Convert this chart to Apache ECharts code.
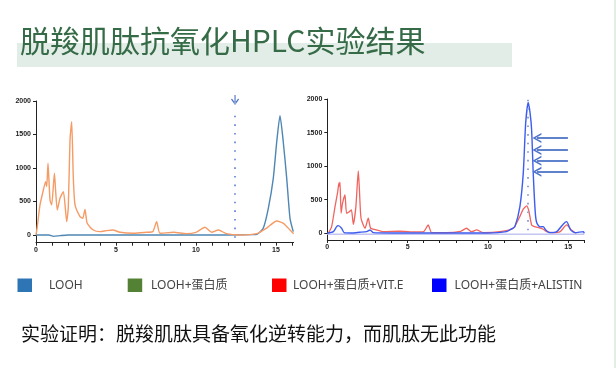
<!DOCTYPE html>
<html>
<head>
<meta charset="utf-8">
<script src="https://cdn.jsdelivr.net/npm/echarts@6/dist/echarts.min.js"></script>
<style>
html,body{margin:0;padding:0;background:#fff;}
#c{width:616px;height:368px;}
</style>
</head>
<body>
<div id="c"></div>
<script>
// ---------- data ----------
const titleText = '脱羧肌肽抗氧化HPLC实验结果';
const conclusionText = '实验证明：脱羧肌肽具备氧化逆转能力，而肌肽无此功能';
const legendNames = ['LOOH', 'LOOH+蛋白质', 'LOOH+蛋白质+VIT.E', 'LOOH+蛋白质+ALISTIN'];
const legendColors = ['#2e75b6', '#548235', '#ff0000', '#0000ff'];
const yTickValues = [0, 500, 1000, 1500, 2000];
const xTickLabels = [0, 5, 10, 15];
const xMinorTicks = [0,1,2,3,4,5,6,7,8,9,10,11,12,13,14,15,16];

// left chromatogram (time, signal)
const leftOrange = [[0,0],[0.08,124],[0.25,448],[0.46,672],[0.6,796],[0.67,722],[0.75,1070],[0.875,522],[0.98,448],[1.15,921],[1.23,647],[1.33,373],[1.5,548],[1.71,647],[1.92,199],[2.02,423],[2.125,1418],[2.23,1692],[2.33,871],[2.44,448],[2.75,274],[2.92,249],[3.06,383],[3.2,174],[3.58,75],[4.0,50],[4.4,65],[4.8,75],[5.25,40],[6.1,25],[6.9,40],[7.3,50],[7.54,199],[7.75,25],[8.6,40],[9.4,20],[10.0,40],[10.56,115],[10.98,40],[11.4,75],[11.9,20],[12.75,0],[13.8,20],[14.4,100],[15.04,209],[15.46,174],[15.875,75],[16.1,20]];
const leftBlue = [[0,0],[0.8,0],[1.1,-20],[1.5,-10],[2,0],[5,0],[10,0],[12,0],[13.5,5],[13.8,10],[14.2,100],[14.52,398],[14.83,846],[15.05,1400],[15.25,1781],[15.45,1400],[15.67,846],[15.875,249],[16.08,50]];
const leftMarkerT = 12.44;

// right chromatogram (time, signal)
const rightRed = [[0.06,0],[0.27,99],[0.48,397],[0.65,621],[0.72,746],[0.76,700],[0.79,761],[0.86,300],[0.95,450],[1.1,572],[1.2,298],[1.37,322],[1.5,348],[1.62,134],[1.78,397],[1.93,930],[2.0,646],[2.1,224],[2.35,75],[2.55,224],[2.7,75],[3.07,50],[3.49,25],[4.5,30],[5.5,20],[6.0,25],[6.28,124],[6.5,10],[7.4,10],[8.3,30],[8.67,75],[8.98,25],[9.3,50],[9.7,10],[10.75,25],[11.58,75],[11.99,250],[12.2,360],[12.41,408],[12.55,330],[12.72,124],[12.9,100],[13.2,80],[13.44,60],[13.65,25],[14.06,10],[14.5,25],[14.9,124],[15.2,50],[15.5,0]];
const rightBlue = [[0,0],[0.38,25],[0.58,99],[0.68,114],[0.89,75],[1.05,10],[1.5,5],[2.0,15],[2.45,25],[2.66,50],[2.87,10],[4,5],[6,5],[8,5],[10,5],[11.16,25],[11.5,70],[11.68,99],[11.99,397],[12.2,896],[12.35,1642],[12.51,1950],[12.62,1800],[12.72,1542],[12.82,896],[12.95,300],[13.05,149],[13.25,95],[13.44,99],[13.6,50],[13.86,10],[14.28,25],[14.7,140],[14.9,174],[15.15,50],[15.42,10],[15.94,25],[16.0,0]];
const rightBase = [[0,-15],[16,-15]];
const rightMarkerT = 12.45;
const arrowLevels = [1420, 1240, 1080, 915];
const arrowFromT = 14.98;
const arrowToT = 13.05;

// ---------- chart ----------
const chevronUp = 'path://M0,10 L5,0 L10,10 L8.2,10 L5,3.4 L1.8,10 Z';
const downArrow = 'path://M4.3,0 L5.7,0 L5.7,8.5 L4.3,8.5 Z M0,4.6 L5,10 L10,4.6 L8.9,3.6 L5,7.8 L1.1,3.6 Z';
const dotStyle = {type: [1.6, 7], width: 2, color: '#7b95db', cap: 'butt'};
const axisFont = {fontSize: 7, fontWeight: 'bold', color: '#222', fontFamily: 'Liberation Sans, Arial, sans-serif',
  formatter: function (v) { return String(v); }};

function xAxisDef(idx, max) {
  return {
    type: 'value', gridIndex: idx, min: 0, max: max,
    axisLine: {show: true, onZero: false, lineStyle: {color: '#222', width: 1}},
    axisTick: {show: true, length: 3, lineStyle: {color: '#222'}, customValues: xMinorTicks},
    axisLabel: Object.assign({margin: 4, customValues: xTickLabels}, axisFont),
    splitLine: {show: false}
  };
}
function yAxisDef(idx, min) {
  return {
    type: 'value', gridIndex: idx, min: min, max: 2000,
    axisLine: {show: true, onZero: false, lineStyle: {color: '#222', width: 1}},
    axisTick: {show: true, length: 3, lineStyle: {color: '#222'}, customValues: yTickValues},
    axisLabel: Object.assign({margin: 5, customValues: yTickValues}, axisFont),
    splitLine: {show: false}
  };
}

const graphics = [
  {type: 'rect', shape: {x: 17, y: 43, width: 495, height: 24}, style: {fill: '#e3ede7'}, z: -1},
  {type: 'line', shape: {x1: 615, y1: 0, x2: 615, y2: 368}, style: {stroke: '#d6ead9', lineWidth: 1.5}}
];
const legendLayout = [[17.5, 49], [127.7, 151], [272, 293], [432, 454.6]];
legendNames.forEach(function (n, i) {
  graphics.push({type: 'rect', shape: {x: legendLayout[i][0], y: 278.5, width: 14.5, height: 13.5}, style: {fill: legendColors[i]}});
  graphics.push({type: 'text', x: legendLayout[i][1], y: 285.5, style: {text: n, fill: '#444', font: '12px "Noto Sans", "Noto Sans CJK SC", sans-serif', textVerticalAlign: 'middle'}});
});

const option = {
  animation: false,
  title: [
    {text: titleText, left: 20, top: 26, padding: 0, textStyle: {fontSize: 30, fontWeight: 'normal', color: '#356b47', fontFamily: '"Noto Sans CJK SC", "Noto Sans", sans-serif'}},
    {text: conclusionText, left: 21, top: 324, padding: 0, textStyle: {fontSize: 19, fontWeight: 'normal', color: '#111', fontFamily: '"Noto Sans CJK SC", "Noto Sans", sans-serif'}}
  ],
  graphic: graphics,
  grid: [
    {left: 36, top: 101, width: 257.6, height: 141.7},
    {left: 327.3, top: 99, width: 257, height: 141}
  ],
  xAxis: [xAxisDef(0, 16.1), xAxisDef(1, 16)],
  yAxis: [yAxisDef(0, -115), yAxisDef(1, -100)],
  series: [
    {
      type: 'line', xAxisIndex: 0, yAxisIndex: 0, data: leftBlue, symbol: 'none', smooth: 0.2, clip: false,
      lineStyle: {color: '#4f86b3', width: 1.4}
    },
    {
      type: 'line', xAxisIndex: 0, yAxisIndex: 0, data: leftOrange, symbol: 'none', smooth: 0.2, clip: false,
      lineStyle: {color: '#f59b66', width: 1.4},
      markLine: {
        silent: true, symbol: ['none', 'none'], label: {show: false}, animation: false,
        data: [[{coord: [leftMarkerT, 1780], lineStyle: dotStyle}, {coord: [leftMarkerT, -75]}]]
      },
      markPoint: {
        silent: true, label: {show: false}, animation: false,
        data: [{coord: [leftMarkerT, 2000], symbol: downArrow, symbolSize: [8, 10], symbolOffset: [0, -1], itemStyle: {color: '#4f74c8'}}]
      }
    },
    {
      type: 'line', xAxisIndex: 1, yAxisIndex: 1, data: rightBase, symbol: 'none', clip: false,
      lineStyle: {color: '#c3c6f2', width: 1.4}
    },
    {
      type: 'line', xAxisIndex: 1, yAxisIndex: 1, data: rightRed, symbol: 'none', smooth: 0.2, clip: false,
      lineStyle: {color: '#f0645f', width: 1.3}
    },
    {
      type: 'line', xAxisIndex: 1, yAxisIndex: 1, data: rightBlue, symbol: 'none', smooth: 0.2, clip: false,
      lineStyle: {color: '#3d5cf0', width: 1.4},
      markLine: {
        silent: true, symbol: ['none', 'none'], label: {show: false}, animation: false,
        data: [[{coord: [rightMarkerT, 1990], lineStyle: {type: [1.6, 7], width: 2, color: '#93a4dc', cap: 'butt'}}, {coord: [rightMarkerT, -50]}]].concat(
          arrowLevels.map(function (v) {
            return [
              {coord: [arrowFromT, v], symbol: 'none', lineStyle: {type: 'solid', width: 1.8, color: '#4f74c8'}},
              {coord: [arrowToT, v], symbol: chevronUp, symbolSize: [10, 9]}
            ];
          })
        )
      }
    }
  ]
};
const chart = echarts.init(document.getElementById('c'), null, {renderer: 'canvas'});
chart.setOption(option);
</script>
</body>
</html>
